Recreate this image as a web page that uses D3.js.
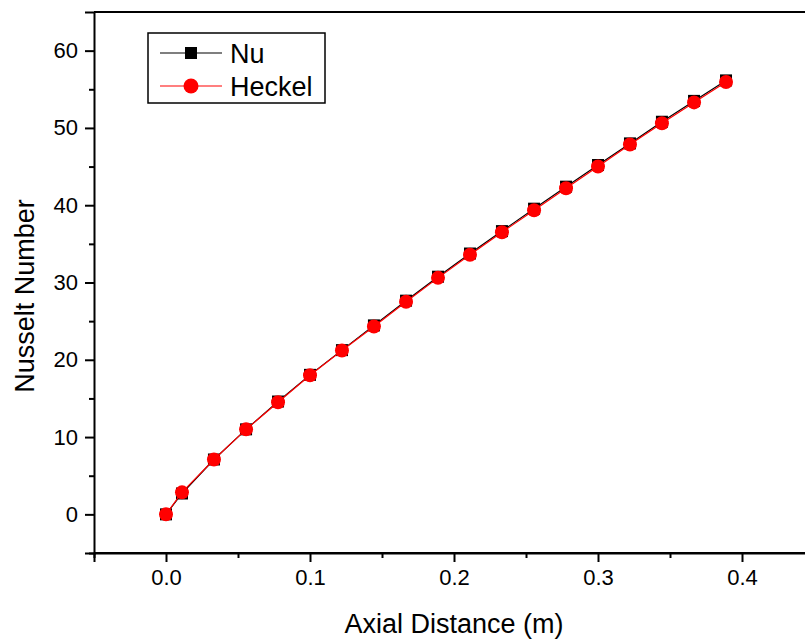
<!DOCTYPE html>
<html>
<head>
<meta charset="utf-8">
<script src="https://cdn.jsdelivr.net/npm/d3@7"></script>
<style>
  body { margin: 0; background: #fff; }
  svg text { font-family: "Liberation Sans", Arial, sans-serif; fill: #000; }
</style>
</head>
<body>
<svg id="chart" width="805" height="639"></svg>
<script>
// axial distance (m)
var distance = [0, 0.0111, 0.0333, 0.0556, 0.0778, 0.1, 0.1222, 0.1444, 0.1667, 0.1889,
                0.2111, 0.2333, 0.2556, 0.2778, 0.3, 0.3222, 0.3444, 0.3667, 0.3889];
var nu     = [0, 2.7, 7.1, 11.0, 14.6, 18.05, 21.25, 24.45, 27.65, 30.75,
              33.75, 36.65, 39.55, 42.4, 45.2, 48.0, 50.8, 53.5, 56.15];
var heckel = [0, 2.85, 7.1, 11.0, 14.5, 18.0, 21.2, 24.3, 27.5, 30.6,
              33.6, 36.5, 39.35, 42.2, 45.0, 47.85, 50.6, 53.3, 55.95];
var xTicks = [0, 0.1, 0.2, 0.3, 0.4];
var xMinor = [-0.05, 0.05, 0.15, 0.25, 0.35];
var yTicks = [0, 10, 20, 30, 40, 50, 60];
var yMinor = [-5, 5, 15, 25, 35, 45, 55];

var svg = d3.select("#chart");

var x = d3.scaleLinear().domain([-0.05, 0.45]).range([94, 814]);
var y = d3.scaleLinear().domain([-5, 65]).range([553, 12]);

// frame: top line (right side is outside the picture)
svg.append("line")
    .attr("x1", x(-0.05)).attr("x2", 805)
    .attr("y1", y(65)).attr("y2", y(65))
    .attr("stroke", "#000").attr("stroke-width", 2);

/** x axis **/
var xAxis = svg.append("g")
    .attr("transform", "translate(0," + y(-5) + ")")
    .call(d3.axisBottom(x).tickValues(xTicks).tickSize(9).tickPadding(7)
      .tickFormat(d3.format(".1f")));
xAxis.selectAll("text").style("font-size", "22px");
svg.append("g")
    .attr("transform", "translate(0," + y(-5) + ")")
    .call(d3.axisBottom(x).tickValues(xMinor).tickSize(5).tickFormat(""))
    .select(".domain").remove();

/** y axis **/
var yAxis = svg.append("g")
    .attr("transform", "translate(" + x(-0.05) + ",0)")
    .call(d3.axisLeft(y).tickValues(yTicks).tickSize(9).tickPadding(7));
yAxis.selectAll("text").style("font-size", "22px");
svg.append("g")
    .attr("transform", "translate(" + x(-0.05) + ",0)")
    .call(d3.axisLeft(y).tickValues(yMinor).tickSize(5).tickFormat(""))
    .select(".domain").remove();

svg.selectAll(".domain").attr("stroke-width", 2);
svg.selectAll(".tick line").attr("stroke-width", 2);

// extend bottom axis to the picture edge
svg.append("line")
    .attr("x1", x(-0.05)).attr("x2", 805)
    .attr("y1", y(-5)).attr("y2", y(-5))
    .attr("stroke", "#000").attr("stroke-width", 2);

/** axis titles **/
svg.append("text")
    .attr("x", 454).attr("y", 633)
    .attr("text-anchor", "middle")
    .style("font-size", "27px")
    .text("Axial Distance (m)");

svg.append("text")
    .attr("transform", "translate(34," + 296 + ") rotate(-90)")
    .attr("text-anchor", "middle")
    .style("font-size", "27px")
    .text("Nusselt Number");

/** series **/
var nuData = distance.map(function(d, i) { return {x: d, y: nu[i]}; });
var heckelData = distance.map(function(d, i) { return {x: d, y: heckel[i]}; });

var line = d3.line()
    .x(function(d) { return x(d.x); })
    .y(function(d) { return y(d.y); });

svg.append("path").datum(nuData)
    .attr("d", line).attr("fill", "none")
    .attr("stroke", "#000").attr("stroke-width", 1.2);

svg.selectAll(".sq")
    .data(nuData).enter()
    .append("rect")
    .attr("class", "sq")
    .attr("x", function(d) { return x(d.x) - 6; })
    .attr("y", function(d) { return y(d.y) - 6; })
    .attr("width", 12).attr("height", 12)
    .attr("fill", "#000");

svg.append("path").datum(heckelData)
    .attr("d", line).attr("fill", "none")
    .attr("stroke", "#ff0000").attr("stroke-width", 1.2);

svg.selectAll(".dot")
    .data(heckelData).enter()
    .append("circle")
    .attr("class", "dot")
    .attr("cx", function(d) { return x(d.x); })
    .attr("cy", function(d) { return y(d.y); })
    .attr("r", 7)
    .attr("fill", "#ff0000");

/** legend **/
var legend = svg.append("g");
legend.append("rect")
    .attr("x", 148).attr("y", 33)
    .attr("width", 177).attr("height", 70)
    .attr("fill", "#fff").attr("stroke", "#000").attr("stroke-width", 1.5);

var legItems = [
  {name: "Nu", color: "#000", shape: "square"},
  {name: "Heckel", color: "#ff0000", shape: "circle"}
];
legItems.forEach(function(item, i) {
  var ly = 53 + i * 33;
  legend.append("line")
      .attr("x1", 160).attr("x2", 222)
      .attr("y1", ly).attr("y2", ly)
      .attr("stroke", item.color).attr("stroke-width", 1.2);
  if (item.shape == "square") {
    legend.append("rect")
        .attr("x", 185).attr("y", ly - 6)
        .attr("width", 12).attr("height", 12)
        .attr("fill", item.color);
  } else {
    legend.append("circle")
        .attr("cx", 191).attr("cy", ly).attr("r", 7.5)
        .attr("fill", item.color);
  }
  legend.append("text")
      .attr("x", 230).attr("y", ly + 10)
      .style("font-size", "27px")
      .text(item.name);
});
</script>
</body>
</html>
